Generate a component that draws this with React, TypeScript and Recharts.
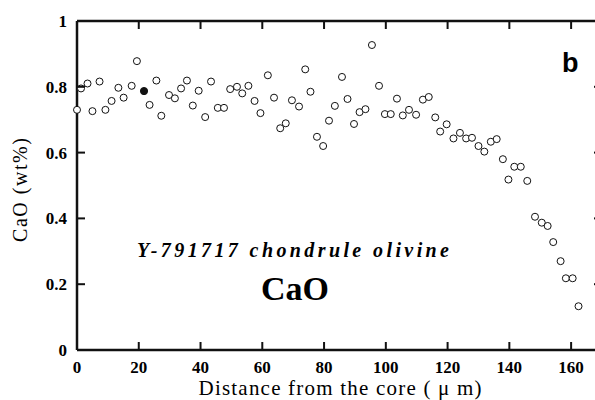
import { ReferenceLine, Scatter, ScatterChart, XAxis, YAxis } from "recharts";

// distance from the core (µm)
const distance = [
  0, 1.3, 3.4, 5, 7.3, 9.2, 11.2, 13.4, 15.1, 17.7, 19.4, 23.5, 25.7, 27.3, 29.8, 31.7, 33.7, 35.6, 37.5, 39.4,
  41.5, 43.4, 45.6, 47.6, 49.6, 51.8, 53.5, 55.5, 57.5, 59.4, 61.8, 63.8, 65.8, 67.6, 69.6, 71.9, 73.9, 75.6, 77.7,
  79.7, 81.6, 83.5, 85.8, 87.6, 89.7, 91.5, 93.4, 95.5, 97.8, 99.7, 101.6, 103.6, 105.5, 107.5, 109.8, 112, 113.9,
  116, 117.6, 119.7, 121.9, 124, 126, 127.9, 130, 131.9, 134, 135.9, 137.9, 139.7, 141.6, 143.7, 145.8, 148.3,
  150.5, 152.4, 154.2, 156.6, 158.3, 160.5, 162.4,
];
// CaO (wt%)
const cao = [
  0.73, 0.795, 0.81, 0.726, 0.816, 0.73, 0.757, 0.797, 0.767, 0.803, 0.878, 0.745, 0.819, 0.712, 0.775, 0.765, 0.795,
  0.819, 0.743, 0.788, 0.708, 0.816, 0.736, 0.736, 0.793, 0.8, 0.78, 0.803, 0.757, 0.72, 0.835, 0.767, 0.674, 0.689,
  0.759, 0.74, 0.853, 0.785, 0.648, 0.62, 0.697, 0.742, 0.83, 0.763, 0.687, 0.723, 0.732, 0.927, 0.803, 0.717, 0.717,
  0.764, 0.713, 0.73, 0.715, 0.761, 0.769, 0.707, 0.664, 0.686, 0.643, 0.66, 0.643, 0.645, 0.62, 0.603, 0.633, 0.641,
  0.58, 0.518, 0.557, 0.557, 0.514, 0.405, 0.387, 0.377, 0.328, 0.27, 0.218, 0.218, 0.133,
];
// the single filled point
const filledDistance = [21.7];
const filledCao = [0.787];

const xTicks = [0, 20, 40, 60, 80, 100, 120, 140, 160];
const yTicks = [0, 0.2, 0.4, 0.6, 0.8, 1];
const xMax = 170;

const points = distance.map((d, i) => ({ x: d, y: cao[i] }));
const filled = filledDistance.map((d, i) => ({ x: d, y: filledCao[i] }));

const W = 620;
const H = 400;
const margin = { top: 21, right: 18, bottom: 30, left: 17 };
const yAxisWidth = 60;
const xAxisHeight = 20;
const plotW = W - margin.left - margin.right - yAxisWidth;
const plotH = H - margin.top - margin.bottom - xAxisHeight;

const ink = "#111";
const serif = "'Liberation Serif', 'Times New Roman', serif";

function OpenDot(props: any) {
  return <circle cx={props.cx} cy={props.cy} r={3.5} fill="#fff" stroke="#111" strokeWidth={1} />;
}

function FilledDot(props: any) {
  return <circle cx={props.cx} cy={props.cy} r={3.6} fill="#111" stroke="#111" strokeWidth={1} />;
}

// inward tick marks on both opposite sides of the frame; tickSize 0 puts x,y on the axis line
function BottomTick(props: any) {
  const { x, y, payload } = props;
  return (
    <g>
      <rect x={x - 1} y={y - 8} width={2} height={8} fill={ink} />
      <rect x={x - 1} y={y - plotH} width={2} height={8} fill={ink} />
      <text x={x} y={y + 23} textAnchor="middle" fontFamily={serif} fontSize={17} fontWeight={700} fill="#000">
        {payload.value}
      </text>
    </g>
  );
}

function LeftTick(props: any) {
  const { x, y, payload } = props;
  return (
    <g>
      <rect x={x} y={y - 1} width={8} height={2} fill={ink} />
      <rect x={x + plotW - 8} y={y - 1} width={8} height={2} fill={ink} />
      <text x={x - 10} y={y + 6} textAnchor="end" fontFamily={serif} fontSize={17} fontWeight={700} fill="#000">
        {String(payload.value)}
      </text>
    </g>
  );
}

export default function App() {
  return (
    <div style={{ position: "absolute", left: 0, top: 0, width: 595, height: 400, overflow: "hidden", background: "#fff" }}>
      <ScatterChart width={W} height={H} margin={margin}>
        <XAxis
          type="number"
          dataKey="x"
          domain={[0, xMax]}
          ticks={xTicks}
          height={xAxisHeight}
          tick={<BottomTick />}
          tickSize={0}
          tickMargin={0}
          axisLine={{ stroke: ink, strokeWidth: 2.5 }}
        />
        <YAxis
          type="number"
          dataKey="y"
          domain={[0, 1]}
          ticks={yTicks}
          width={yAxisWidth}
          tick={<LeftTick />}
          tickSize={0}
          tickMargin={0}
          axisLine={{ stroke: ink, strokeWidth: 2.5 }}
        />
        <ReferenceLine y={1} stroke={ink} strokeWidth={2.5} />
        <ReferenceLine x={xMax} stroke={ink} strokeWidth={2.5} />
        <Scatter data={points} shape={OpenDot} isAnimationActive={false} />
        <Scatter data={filled} shape={FilledDot} isAnimationActive={false} />
      </ScatterChart>
      <svg width={595} height={400} style={{ position: "absolute", left: 0, top: 0, pointerEvents: "none" }}>
        <text
          x={22}
          y={190}
          transform="rotate(-90 22 190)"
          textAnchor="middle"
          dominantBaseline="middle"
          fontFamily={serif}
          fontSize={20}
          textLength={104}
          lengthAdjust="spacing"
        >
          CaO (wt%)
        </text>
        <text x={340} y={395} textAnchor="middle" fontFamily={serif} fontSize={21} textLength={283} lengthAdjust="spacing">
          Distance from the core ( μ m)
        </text>
        <text
          x={137}
          y={257}
          fontFamily={serif}
          fontSize={20}
          fontWeight={700}
          fontStyle="italic"
          textLength={312}
          lengthAdjust="spacing"
        >
          Y-791717 chondrule olivine
        </text>
        <text x={295} y={300} textAnchor="middle" fontFamily={serif} fontSize={34} fontWeight={700}>
          CaO
        </text>
        <text x={562} y={72} fontFamily="'Liberation Sans', Arial, sans-serif" fontSize={27} fontWeight={700}>
          b
        </text>
      </svg>
    </div>
  );
}
